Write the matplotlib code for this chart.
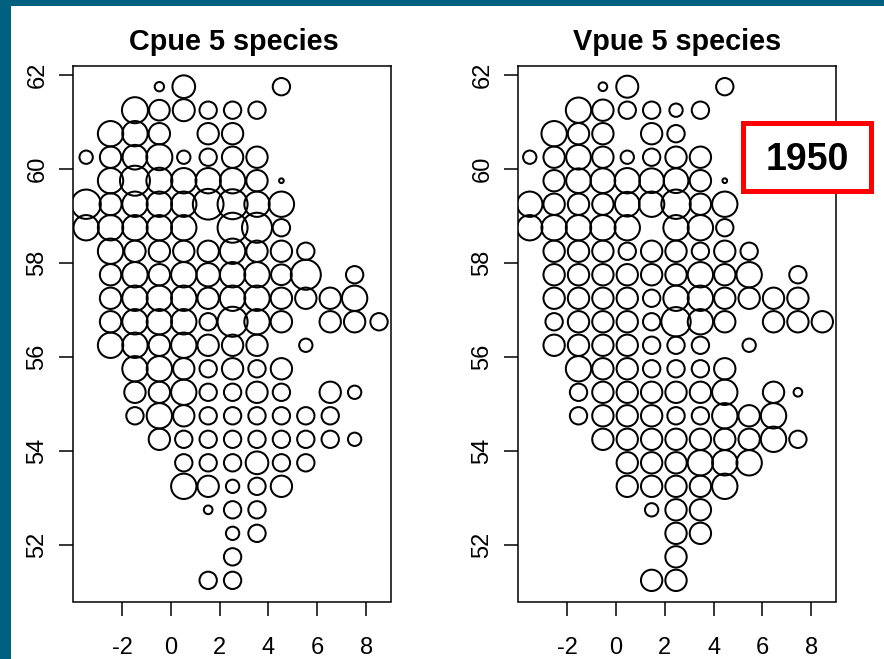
import matplotlib
matplotlib.use("Agg")
import matplotlib.pyplot as plt
from matplotlib.patches import Rectangle

plt.rcParams['font.family'] = ['Liberation Sans', 'DejaVu Sans']

W, H, DPI = 884, 659, 100

titles = ["Cpue 5 species", "Vpue 5 species"]
year_label = "1950"
x_ticks = [-2, 0, 2, 4, 6, 8]
y_ticks = [52, 54, 56, 58, 60, 62]

# Each row: latitude -> {longitude: bubble value}
cpue = {
    61.75: {-.5: 28, .5: 68, 4.5: 52},
    61.25: {-1.5: 78, -.5: 62, .5: 66, 1.5: 52, 2.5: 52, 3.5: 52},
    60.75: {-2.5: 76, -1.5: 76, -.5: 64, 1.5: 64, 2.5: 64},
    60.25: {-3.5: 40, -2.5: 64, -1.5: 74, -.5: 78, .5: 40, 1.5: 52, 2.5: 64, 3.5: 64},
    59.75: {-2.5: 76, -1.5: 90, -.5: 78, .5: 76, 1.5: 76, 2.5: 76, 3.5: 64, 4.5: 14},
    59.25: {-3.5: 88, -2.5: 66, -1.5: 76, -.5: 76, .5: 76, 1.5: 92, 2.5: 90, 3.5: 76, 4.5: 76},
    58.75: {-3.5: 76, -2.5: 76, -1.5: 76, -.5: 76, .5: 76, 2.5: 90, 3.5: 90, 4.5: 52},
    58.25: {-2.5: 76, -1.5: 64, -.5: 64, .5: 64, 1.5: 64, 2.5: 76, 3.5: 64, 4.5: 64, 5.5: 52},
    57.75: {-2.5: 64, -1.5: 76, -.5: 64, .5: 76, 1.5: 70, 2.5: 76, 3.5: 76, 4.5: 62, 5.5: 90, 7.5: 52},
    57.25: {-2.5: 64, -1.5: 76, -.5: 76, .5: 76, 1.5: 64, 2.5: 76, 3.5: 76, 4.5: 64, 5.5: 64, 6.5: 64, 7.5: 76},
    56.75: {-2.5: 64, -1.5: 76, -.5: 76, .5: 76, 1.5: 52, 2.5: 90, 3.5: 76, 4.5: 64, 6.5: 64, 7.5: 64, 8.5: 52},
    56.25: {-2.5: 76, -1.5: 76, -.5: 64, .5: 76, 1.5: 64, 2.5: 64, 3.5: 64, 5.5: 40},
    55.75: {-1.5: 76, -.5: 76, .5: 64, 1.5: 52, 2.5: 64, 3.5: 52, 4.5: 64},
    55.25: {-1.5: 64, -.5: 64, .5: 76, 1.5: 52, 2.5: 52, 3.5: 64, 4.5: 52, 6.5: 64, 7.5: 40},
    54.75: {-1.5: 52, -.5: 76, .5: 64, 1.5: 52, 2.5: 52, 3.5: 52, 4.5: 52, 5.5: 52, 6.5: 52},
    54.25: {-.5: 64, .5: 52, 1.5: 52, 2.5: 52, 3.5: 52, 4.5: 52, 5.5: 52, 6.5: 52, 7.5: 40},
    53.75: {.5: 52, 1.5: 52, 2.5: 52, 3.5: 68, 4.5: 52, 5.5: 52},
    53.25: {.5: 76, 1.5: 64, 2.5: 40, 3.5: 52, 4.5: 64},
    52.75: {1.5: 26, 2.5: 52, 3.5: 52},
    52.25: {2.5: 40, 3.5: 52},
    51.75: {2.5: 52},
    51.25: {1.5: 52, 2.5: 52},
}

vpue = {
    61.75: {-.5: 26, .5: 66, 4.5: 52},
    61.25: {-1.5: 76, -.5: 64, .5: 52, 1.5: 52, 2.5: 40, 3.5: 52},
    60.75: {-2.5: 76, -1.5: 64, -.5: 64, 1.5: 64, 2.5: 52},
    60.25: {-3.5: 40, -2.5: 64, -1.5: 74, -.5: 64, .5: 40, 1.5: 52, 2.5: 64, 3.5: 64},
    59.75: {-2.5: 64, -1.5: 74, -.5: 74, .5: 76, 1.5: 74, 2.5: 74, 3.5: 64, 4.5: 14},
    59.25: {-3.5: 76, -2.5: 64, -1.5: 64, -.5: 64, .5: 74, 1.5: 76, 2.5: 88, 3.5: 64, 4.5: 76},
    58.75: {-3.5: 76, -2.5: 76, -1.5: 76, -.5: 76, .5: 76, 2.5: 76, 3.5: 76, 4.5: 52},
    58.25: {-2.5: 64, -1.5: 64, -.5: 64, .5: 52, 1.5: 64, 2.5: 64, 3.5: 52, 4.5: 64, 5.5: 52},
    57.75: {-2.5: 64, -1.5: 64, -.5: 64, .5: 64, 1.5: 64, 2.5: 64, 3.5: 76, 4.5: 64, 5.5: 76, 7.5: 52},
    57.25: {-2.5: 64, -1.5: 64, -.5: 64, .5: 64, 1.5: 52, 2.5: 76, 3.5: 76, 4.5: 64, 5.5: 64, 6.5: 64, 7.5: 64},
    56.75: {-2.5: 52, -1.5: 64, -.5: 64, .5: 64, 1.5: 52, 2.5: 88, 3.5: 76, 4.5: 64, 6.5: 64, 7.5: 64, 8.5: 64},
    56.25: {-2.5: 64, -1.5: 64, -.5: 64, .5: 64, 1.5: 52, 2.5: 52, 3.5: 52, 5.5: 40},
    55.75: {-1.5: 76, -.5: 64, .5: 64, 1.5: 52, 2.5: 52, 3.5: 52, 4.5: 64},
    55.25: {-1.5: 52, -.5: 64, .5: 64, 1.5: 64, 2.5: 64, 3.5: 64, 4.5: 76, 6.5: 64, 7.5: 26},
    54.75: {-1.5: 52, -.5: 64, .5: 64, 1.5: 64, 2.5: 52, 3.5: 52, 4.5: 76, 5.5: 64, 6.5: 76},
    54.25: {-.5: 64, .5: 64, 1.5: 64, 2.5: 64, 3.5: 64, 4.5: 64, 5.5: 64, 6.5: 76, 7.5: 52},
    53.75: {.5: 64, 1.5: 64, 2.5: 64, 3.5: 76, 4.5: 76, 5.5: 76},
    53.25: {.5: 64, 1.5: 64, 2.5: 64, 3.5: 64, 4.5: 76},
    52.75: {1.5: 40, 2.5: 64, 3.5: 64},
    52.25: {2.5: 64, 3.5: 64},
    51.75: {2.5: 64},
    51.25: {1.5: 64, 2.5: 64},
}

TEAL = "#00607F"
fig = plt.figure(figsize=(W / DPI, H / DPI), dpi=DPI, facecolor="white")


def fx(px):
    return px / W


def fy(py):
    return 1 - py / H


fig.add_artist(Rectangle((0, fy(6)), 1, 6 / H, transform=fig.transFigure, fc=TEAL, ec="none"))
fig.add_artist(Rectangle((0, 0), 11 / W, 1, transform=fig.transFigure, fc=TEAL, ec="none"))

TOP, BOTTOM = 66, 601.5


def panel(left, right, xlim, lon_shift, title, title_x, data):
    ax = fig.add_axes([fx(left), fy(BOTTOM), (right - left) / W, (BOTTOM - TOP) / H])
    xs, ys, sizes = [], [], []
    for lat, row in data.items():
        for lon, val in row.items():
            xs.append(lon + lon_shift)
            ys.append(lat)
            sizes.append((val / 3 * 72 / DPI) ** 2)
    ax.scatter(xs, ys, s=sizes, facecolors="none", edgecolors="black", linewidths=1.45, clip_on=True)
    ax.set_xlim(*xlim)
    ax.set_ylim(50.80, 62.19)
    ax.set_xticks(x_ticks)
    ax.set_yticks(y_ticks)
    ax.set_xticklabels([str(v) for v in x_ticks])
    ax.set_yticklabels([str(v) for v in y_ticks], rotation=90, va="center")
    ax.tick_params(axis="both", length=10, width=1.1, labelsize=17, color="black")
    ax.tick_params(axis="x", pad=15.5)
    ax.tick_params(axis="y", pad=8)
    for s in ax.spines.values():
        s.set_linewidth(1.1)
    fig.text(fx(title_x), fy(41.5), title, ha="center", va="center", fontsize=20.8,
             fontweight="bold", color="black")
    return ax


panel(73.3, 391, (-3.996, 9.02), 0.03, titles[0], 234, cpue)
panel(518.3, 835.7, (-4.01, 9.01), -0.04, titles[1], 677, vpue)

fig.add_artist(Rectangle((fx(743), fy(190.5)), 128 / W, 68 / H, transform=fig.transFigure,
                         fc="white", ec="#FF0000", lw=3.6, zorder=5))
fig.text(fx(807), fy(160), year_label, ha="center", va="center", fontsize=27,
         fontweight="bold", color="black", zorder=6)

fig.savefig("out.png", dpi=DPI)
